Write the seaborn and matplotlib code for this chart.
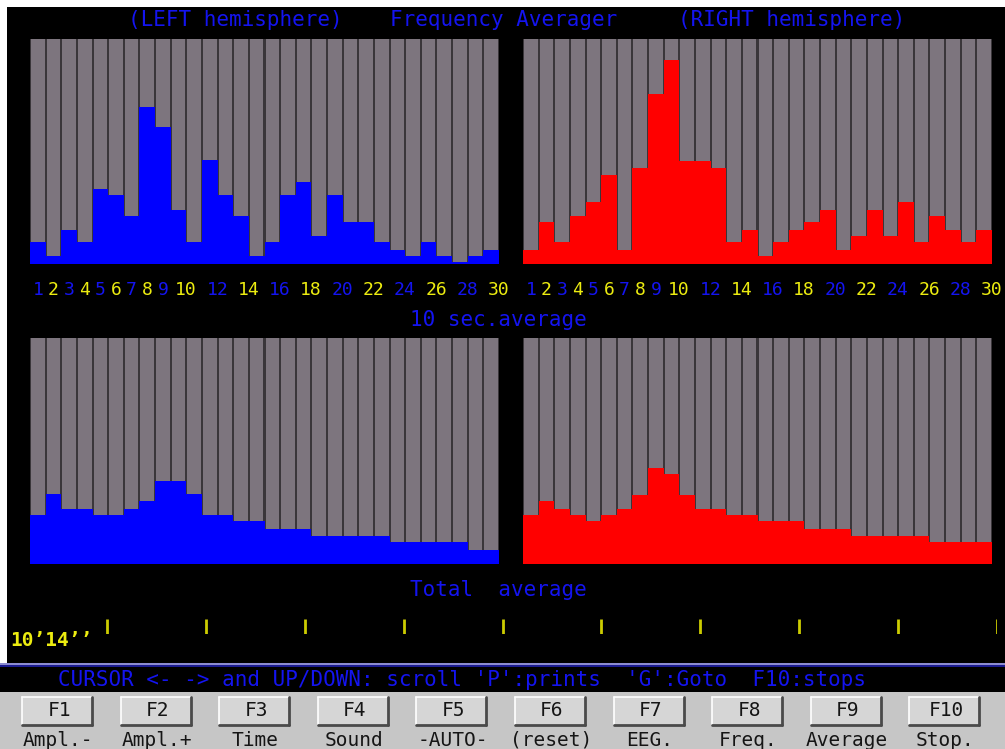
# EEG frequency averager screen (DOS style) -- seaborn recreation
import numpy as np
import pandas as pd
import matplotlib
matplotlib.use("Agg")
import matplotlib.pyplot as plt
import matplotlib.transforms as mtransforms
from matplotlib.patches import Rectangle
import seaborn as sns

# ---------------- data ----------------
freqs = list(range(1, 31))                       # 1..30 Hz bins
full_scale = 100                                 # height of the grey track

left_10s = [9.8, 3.4, 15.3, 9.8, 33.3, 30.5, 21.5, 69.6, 60.7, 24.1,
            9.8, 46.1, 30.5, 21.5, 3.4, 9.8, 30.5, 36.6, 12.6, 30.5,
            18.8, 18.8, 9.8, 6.4, 3.4, 9.8, 3.4, 0.9, 3.4, 6.4]
right_10s = [6.4, 18.7, 9.8, 21.5, 27.7, 39.6, 6.4, 42.5, 75.7, 90.8,
             45.8, 45.8, 42.5, 9.8, 15.3, 3.4, 9.8, 15.3, 18.7, 24.1,
             6.4, 12.6, 24.1, 12.6, 27.7, 9.8, 21.5, 15.3, 9.8, 15.3]
left_total = [21.8, 31.0, 24.3, 24.3, 21.5, 21.5, 24.3, 28.0, 36.9, 36.9,
              30.8, 21.7, 21.7, 18.9, 18.9, 15.5, 15.5, 15.5, 12.5, 12.5,
              12.5, 12.5, 12.5, 9.7, 9.7, 9.7, 9.7, 9.7, 6.3, 6.3]
right_total = [21.7, 27.9, 24.3, 21.7, 18.9, 21.7, 24.3, 30.7, 42.5, 39.8,
               30.7, 24.3, 24.3, 21.7, 21.7, 18.9, 18.9, 18.9, 15.5, 15.5,
               15.5, 12.5, 12.5, 12.5, 12.5, 12.5, 9.7, 9.7, 9.7, 9.7]

freq_labels = [1, 2, 3, 4, 5, 6, 7, 8, 9, 10, 12, 14, 16, 18, 20, 22, 24, 26, 28, 30]
time_ticks = [1, 2, 3, 4, 5, 6, 7, 8, 9, 10]
elapsed = "10’14’’"

keys = ["F1", "F2", "F3", "F4", "F5", "F6", "F7", "F8", "F9", "F10"]
actions = ["Ampl.-", "Ampl.+", "Time", "Sound", "-AUTO-", "(reset)",
           "EEG.", "Freq.", "Average", "Stop."]

# ---------------- style ----------------
BLUE = "#0000ff"
TXT_BLUE = "#1414f0"
RED = "#ff0000"
GREY = "#7d757e"
SEP = "#3a363a"
YELLOW = "#ecec10"

sns.set_theme(style="white")
plt.rcParams["font.family"] = ["DejaVu Sans Mono"]

W, H = 1005, 749
fig = plt.figure(figsize=(W / 100, H / 100), dpi=100, facecolor="white")

# background in pixel coordinates
bg = fig.add_axes([0, 0, 1, 1])
bg.set_xlim(0, W)
bg.set_ylim(H, 0)
bg.axis("off")
bg.add_patch(Rectangle((7, 7), W - 7, 656, color="black", lw=0))
bg.add_patch(Rectangle((0, 663), W, 2, color="#8c8cd0", lw=0))
bg.add_patch(Rectangle((0, 665), W, 27, color="black", lw=0))
bg.add_patch(Rectangle((0, 665), W, 1.5, color="#1a1a90", lw=0))
bg.add_patch(Rectangle((0, 692), W, H - 692, color="#c6c6c6", lw=0))

bg.text(235, 20, "(LEFT hemisphere)", color=TXT_BLUE, fontsize=15, ha="center", va="center")
bg.text(504, 20, "Frequency Averager", color=TXT_BLUE, fontsize=15, ha="center", va="center")
bg.text(792, 20, "(RIGHT hemisphere)", color=TXT_BLUE, fontsize=15, ha="center", va="center")
bg.text(498, 320, "10 sec.average", color=TXT_BLUE, fontsize=15, ha="center", va="center")
bg.text(498, 590, "Total  average", color=TXT_BLUE, fontsize=15, ha="center", va="center")
bg.text(10, 640, elapsed, color=YELLOW, fontsize=14, ha="left", va="center", fontweight="bold")
bg.text(58, 680, "CURSOR <- -> and UP/DOWN: scroll 'P':prints  'G':Goto  F10:stops",
        color=TXT_BLUE, fontsize=15, ha="left", va="center")

# function-key buttons
for i, (k, a) in enumerate(zip(keys, actions)):
    x0 = 22 + 98.6 * i
    bg.add_patch(Rectangle((x0, 697), 70, 28, facecolor="#d6d6d6", edgecolor="none"))
    bg.plot([x0, x0 + 70], [697, 697], color="white", lw=1.2)
    bg.plot([x0, x0], [697, 725], color="white", lw=1.2)
    bg.plot([x0 + 70, x0 + 70], [697, 725], color="#4a4a4a", lw=2)
    bg.plot([x0, x0 + 70], [725, 725], color="#4a4a4a", lw=2)
    bg.text(x0 + 37, 711, k, color="#151515", fontsize=14, ha="center", va="center")
    bg.text(x0 + 36, 740, a, color="#151515", fontsize=14, ha="center", va="center")


def panel(rect, values, color, labels=False):
    ax = fig.add_axes(rect)
    ax.set_facecolor(SEP)
    df = pd.DataFrame({"freq": freqs, "value": values, "full": [full_scale] * len(freqs)})
    sns.barplot(data=df, x="freq", y="full", color=GREY, width=0.87,
                saturation=1, linewidth=0, ax=ax)
    sns.barplot(data=df, x="freq", y="value", color=color, width=1.0,
                saturation=1, linewidth=0, ax=ax)
    ax.set_xlim(-0.5, len(freqs) - 0.5)
    ax.set_ylim(0, full_scale)
    ax.set_xlabel("")
    ax.set_ylabel("")
    ax.set_yticks([])
    ax.set_xticks([])
    for s in ax.spines.values():
        s.set_visible(False)
    if labels:
        trans = mtransforms.blended_transform_factory(ax.transData, ax.transAxes)
        for j, f in enumerate(freq_labels):
            p = freqs.index(f)
            c = TXT_BLUE if j % 2 == 0 else YELLOW
            if f < 10:
                ax.text(p, -0.115, str(f), color=c, fontsize=13, ha="center",
                        va="center", transform=trans, clip_on=False)
            else:
                ax.text(p - 0.22, -0.115, str(f), color=c, fontsize=13, ha="left",
                        va="center", transform=trans, clip_on=False)
    return ax


panel([30 / W, 1 - 264 / H, 469 / W, 225 / H], left_10s, BLUE, labels=True)
panel([523 / W, 1 - 264 / H, 469 / W, 225 / H], right_10s, RED, labels=True)
panel([30 / W, 1 - 564 / H, 469 / W, 226 / H], left_total, BLUE)
panel([523 / W, 1 - 564 / H, 469 / W, 226 / H], right_total, RED)

# time ruler
tl = fig.add_axes([8 / W, 1 - 634 / H, 989 / W, 15 / H])
tl.set_xlim(0, 10)
tl.set_ylim(0, 1)
tl.axis("off")
tl.vlines(time_ticks, 0, 1, color="#cccc00", lw=2)

fig.savefig("out.png", dpi=100, facecolor=fig.get_facecolor())
